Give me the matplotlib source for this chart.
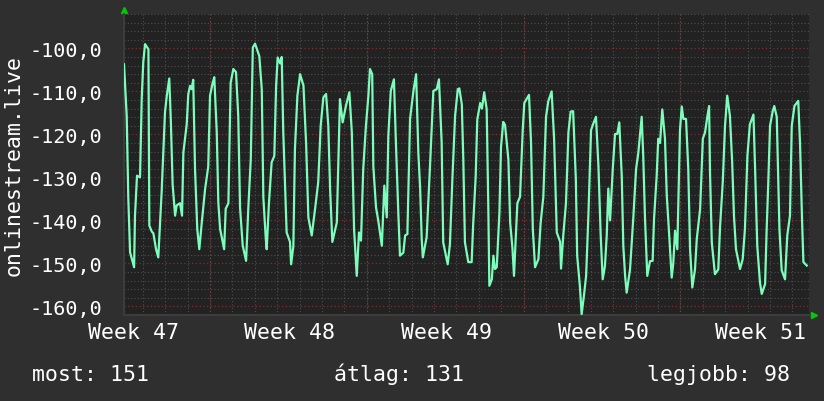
import matplotlib.pyplot as plt
import numpy as np

# idő (napok a grafikon elejétől) és érték
days = [0.16, 0.28, 0.35, 0.43, 0.61, 0.65, 0.74, 0.875, 0.95, 1.02, 1.10, 1.25, 1.29, 1.40, 1.47, 1.59, 1.69, 1.84,
        1.99, 2.07, 2.18, 2.25, 2.33, 2.44, 2.51, 2.66, 2.75, 2.81, 2.96, 3.03, 3.11, 3.18, 3.25, 3.33, 3.43, 3.52,
        3.63, 3.78, 3.92, 4.00, 4.12, 4.19, 4.30, 4.37, 4.45, 4.63, 4.70, 4.82, 4.92, 5.04, 5.16, 5.26, 5.34, 5.46,
        5.61, 5.71, 5.82, 5.91, 6.01, 6.20, 6.31, 6.38, 6.49, 6.53, 6.63, 6.75, 6.87, 6.95, 7.02, 7.13, 7.20, 7.27,
        7.42, 7.57, 7.62, 7.72, 7.79, 7.90, 8.02, 8.17, 8.29, 8.39, 8.54, 8.69, 8.83, 8.94, 9.06, 9.18, 9.28, 9.36,
        9.46, 9.66, 9.80, 9.92, 10.07, 10.22, 10.33, 10.43, 10.55, 10.65, 10.74, 10.84, 10.96, 11.07, 11.14, 11.24,
        11.29, 11.41, 11.51, 11.67, 11.78, 11.89, 11.96, 12.07, 12.21, 12.30, 12.41, 12.48, 12.63, 12.71, 12.81,
        12.93, 13.08, 13.20, 13.30, 13.38, 13.45, 13.50, 13.67, 13.82, 13.97, 14.12, 14.22, 14.34, 14.41, 14.61,
        14.71, 14.82, 14.94, 15.06, 15.13, 15.24, 15.31, 15.38, 15.53, 15.68, 15.75, 15.86, 15.93, 16.06, 16.14,
        16.24, 16.35, 16.42, 16.47, 16.58, 16.65, 16.72, 16.80, 16.92, 16.99, 17.09, 17.17, 17.32, 17.40, 17.50,
        17.57, 17.72, 17.84, 17.96, 18.03, 18.24, 18.33, 18.41, 18.51, 18.66, 18.76, 18.88, 19.00, 19.10, 19.25,
        19.36, 19.48, 19.63, 19.67, 19.77, 19.89, 20.00, 20.10, 20.21, 20.33, 20.39, 20.51, 20.59, 20.69, 20.79,
        20.89, 21.01, 21.11, 21.23, 21.34, 21.44, 21.53, 21.63, 21.71, 21.78, 21.86, 21.98, 22.08, 22.18, 22.27,
        22.38, 22.45, 22.53, 22.60, 22.75, 22.90, 23.02, 23.12, 23.27, 23.34, 23.42, 23.52, 23.64, 23.76, 23.82,
        23.94, 24.01, 24.09, 24.19, 24.31, 24.39, 24.50, 24.61, 24.68, 24.76, 24.86, 24.98, 25.06, 25.13, 25.25,
        25.35, 25.43, 25.53, 25.65, 25.73, 25.88, 26.00, 26.10, 26.20, 26.28, 26.32, 26.40, 26.54, 26.69, 26.77,
        26.89, 26.99, 27.09, 27.21, 27.31, 27.39, 27.48, 27.66, 27.78, 27.88, 27.99, 28.10, 28.26, 28.33, 28.43,
        28.55, 28.63, 28.78, 28.85, 28.92, 29.00, 29.12, 29.19, 29.30, 29.42, 29.52, 29.67, 29.77, 29.89, 29.97,
        30.09, 30.26, 30.34, 30.43, 30.49, 30.64]
values = [-103.7, -115.7, -134.6, -147.4, -150.9, -138.9, -129.6, -130, -111.8, -103.2, -99, -100.2, -141.2, -142.6,
          -143, -146.7, -148.6, -133.4, -114.8, -111, -107, -116.8, -131.6, -138.9, -136.5, -136, -138.9, -124.2,
          -117.6, -110.6, -108.7, -109.5, -107.3, -128, -142, -146.7, -140.6, -132.7, -127.5, -111, -108, -106.7,
          -119.5, -135.8, -142, -146.7, -137.3, -136, -108, -104.8, -105.5, -115.7, -137, -145.9, -149.4, -137,
          -125.7, -99.8, -98.9, -101.8, -109.5, -134.6, -144.3, -146.7, -136, -126.5, -125, -108.7, -102.1, -103.5,
          -102, -119.5, -142.8, -145, -150.2, -146, -123.5, -111, -106, -108.6, -122.2, -139.3, -143.5, -137.3,
          -131.1, -118, -111.4, -110.6, -118, -132.6, -145, -140.5, -111.8, -117.2, -113.3, -110.2, -119.5, -142,
          -152.9, -142.8, -144.7, -128, -118, -111, -104.8, -106, -127.4, -137, -140, -145.9, -131.9, -139.3,
          -120.3, -109.9, -107.2, -122.2, -138.9, -148.2, -147.5, -143.5, -143.2, -116.4, -109.9, -106, -124.3,
          -132.6, -144.3, -148.6, -143.9, -127.4, -109.9, -109.5, -107.2, -121.8, -145.1, -150.2, -145.5, -130.3,
          -115.7, -109.5, -109.3, -113, -126.5, -145.1, -149.7, -149.7, -140.6, -129.8, -116.6, -112.7, -114,
          -110.2, -114.1, -135.8, -155.2, -153.7, -148.2, -151.3, -150.9, -138.1, -122.9, -117.1, -117.8, -125.9,
          -140.6, -146.4, -152.9, -136, -134.5, -119, -112.7, -110.8, -121.8, -142, -150.9, -149, -140.6, -134.5,
          -115.9, -112.3, -110, -121, -142.8, -145, -151.2, -143.5, -136, -119.5, -114.7, -114.6, -130.3, -148.2,
          -155.2, -161.8, -157.6, -152.9, -139, -119, -117.5, -115.9, -127.4, -143.5, -153.7, -150.6, -143.5,
          -132.6, -140, -128, -119.9, -119.9, -117.2, -129.6, -145.9, -152.9, -156.8, -151.4, -139.1, -128, -124.3,
          -115.9, -125.1, -139.8, -152.9, -149.5, -149.4, -139.8, -129.6, -121, -122, -114.2, -121, -134.2, -143.5,
          -153.3, -150, -142.4, -146.7, -119, -113.5, -116.4, -116.4, -128, -146.7, -155.6, -151.4, -144.3, -137.3,
          -121, -119.5, -115.9, -113.4, -128.7, -145.1, -152.5, -151.4, -141.4, -131.1, -118, -111, -115.7, -126.5,
          -138.9, -146.7, -151.3, -149, -142, -125, -117.7, -115.4, -127.4, -145.9, -154.4, -157.1, -154.8, -142,
          -131.5, -118, -114.6, -113.4, -115.9, -142, -151.6, -153.7, -143.5, -138.9, -118, -113.4, -112.2, -122.2,
          -140, -149.7, -150.5]

week_labels = ['Week 47', 'Week 48', 'Week 49', 'Week 50', 'Week 51']
stats = ['most: 151', 'átlag: 131', 'legjobb: 98']

bg = '#2f2f2f'
face = '#222222'
mono = 'DejaVu Sans Mono'

fig = plt.figure(figsize=(8.24, 4.02), dpi=100, facecolor=bg)
ax = fig.add_axes([0.1505, 0.2139, 0.8313, 0.7488], facecolor=face)

ax.set_xlim(0.16, 30.74)
ax.set_ylim(-162, -92)

# rács
ax.set_yticks(np.arange(-160, -99, 10))
ax.set_yticks(np.arange(-162, -91, 2), minor=True)
ax.set_yticklabels([f'{v:.1f}'.replace('.', ',') for v in np.arange(-160, -99, 10)])
ax.set_xticks([0.57 + 7 * i for i in range(len(week_labels))])
ax.set_xticklabels(week_labels)
ax.set_xticks(np.arange(1, 31), minor=True)

dots = (0, (1, 2))
ax.grid(axis='y', which='minor', color='#4e4e4e', linestyle=dots, linewidth=0.8)
ax.grid(axis='x', which='minor', color='#4e4e4e', linestyle=dots, linewidth=0.8)
ax.grid(axis='y', which='major', color='#7a3030', linestyle=dots, linewidth=0.9)
for d in range(4, 31, 7):
    ax.axvline(d, color='#7a3030', linestyle=dots, linewidth=0.9, zorder=1)

ax.tick_params(which='both', length=0, colors='white')
ax.tick_params(axis='y', pad=16, labelsize=14.5)
ax.tick_params(axis='x', pad=5, labelsize=15.5)
for lab in ax.get_xticklabels() + ax.get_yticklabels():
    lab.set_family(mono)

for s in ['top', 'right']:
    ax.spines[s].set_visible(False)
for s in ['left', 'bottom']:
    ax.spines[s].set_color('#3c3c3c')
    ax.spines[s].set_linewidth(1.5)

ax.plot(days, values, color='#7dfcbc', linewidth=1.6, zorder=3)

# nyilak a tengelyek végén
ax.plot([0], [1.013], marker='^', color='#00cc00', markersize=5, transform=ax.transAxes, clip_on=False)
ax.plot([1.008], [0.0], marker='>', color='#00cc00', markersize=5, transform=ax.transAxes, clip_on=False)

ax.set_ylabel('onlinestream.live', family=mono, fontsize=15.5, color='white', labelpad=4)

fig.text(0.039, 0.052, stats[0], family=mono, fontsize=15.5, color='white', ha='left')
fig.text(0.484, 0.052, stats[1], family=mono, fontsize=15.5, color='white', ha='center')
fig.text(0.959, 0.052, stats[2], family=mono, fontsize=15.5, color='white', ha='right')

fig.savefig('out.png', dpi=100, facecolor=bg)
